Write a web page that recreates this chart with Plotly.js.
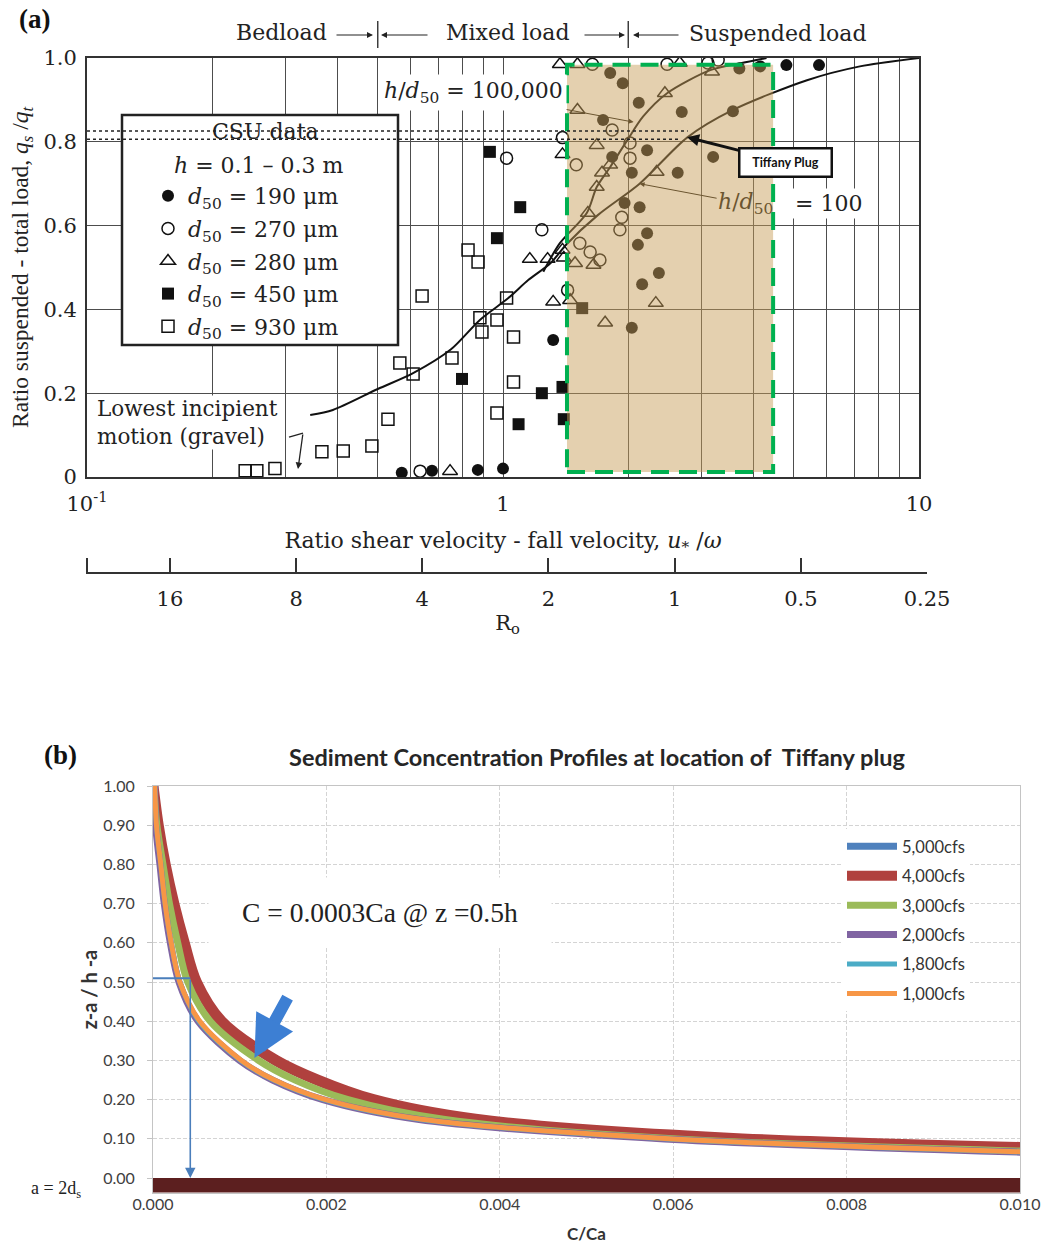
<!DOCTYPE html>
<html><head><meta charset="utf-8">
<script src="https://cdn.plot.ly/plotly-3.0.1.min.js"></script>
<style>html,body{margin:0;padding:0;background:#fff;}#chart{width:1047px;height:1247px;}</style>
</head><body><div id="chart"></div>
<script>
// ================= Panel (a) data =================
// CSU data points: u*/w (x) vs qs/qt (y)
const d190x = [0.571,0.675,0.87,1.0,1.32,1.74,1.81,1.94,2.12,2.69,3.57,3.7,4.15,4.8,5.75,1.83,2.22,2.04,2.63,3.2,1.96,2.13,2.22,2.11,2.37,2.16,2.04];
const d190y = [0.01,0.015,0.017,0.02,0.327,0.852,0.964,0.94,0.893,0.871,0.873,0.975,0.98,0.983,0.983,0.764,0.78,0.726,0.726,0.764,0.654,0.644,0.582,0.554,0.487,0.46,0.356];
const d270x = [0.632,1.02,1.24,1.39,1.43,1.53,1.62,1.71,1.50,1.83,2.02,2.02,1.93,1.91,1.64,2.48,3.11,3.29];
const d270y = [0.014,0.761,0.59,0.81,0.446,0.558,0.537,0.518,0.745,0.828,0.797,0.761,0.62,0.59,0.985,0.985,0.988,0.995];
const d280x = [0.746,1.16,1.28,1.40,1.32,1.37,1.51,2.66,1.51,1.68,2.45,3.18,1.81,1.73,1.68,1.60,2.34,1.39,1.49,1.65,2.33,1.76,1.45,1.39];
const d280y = [0.014,0.52,0.52,0.523,0.418,0.985,0.985,0.988,0.876,0.792,0.916,0.967,0.745,0.726,0.692,0.63,0.728,0.542,0.51,0.506,0.415,0.368,0.422,0.77];
const d450x = [0.93,1.10,0.967,0.797,1.09,1.24,1.39,1.40,1.55];
const d450y = [0.776,0.644,0.57,0.234,0.126,0.2,0.215,0.138,0.403];
const d930x = [0.24,0.256,0.283,0.367,0.413,0.484,0.529,0.565,0.608,0.639,0.754,0.824,0.871,0.88,0.89,0.967,0.967,1.02,1.06,1.06];
const d930y = [0.015,0.015,0.02,0.06,0.062,0.074,0.138,0.272,0.246,0.432,0.284,0.542,0.513,0.38,0.346,0.375,0.153,0.427,0.334,0.227];
// Curves h/d50 = 100 and h/d50 = 100,000
const hd100x = [0.344,0.39,0.5,0.608,0.75,0.88,1.03,1.15,1.30,1.42,1.69,2.13,2.77,3.57,5.38,7.21,10];
const hd100y = [0.148,0.16,0.21,0.248,0.305,0.375,0.427,0.47,0.51,0.555,0.625,0.70,0.81,0.876,0.947,0.98,1.0];
const hd1e5x = [1.25,1.37,1.59,1.68,1.81,1.99,2.17,2.48,3.15,3.75,4.3];
const hd1e5y = [0.49,0.558,0.63,0.692,0.74,0.804,0.86,0.916,0.971,0.988,1.0];
// Axis ticks
const xGridVals = [0.1,0.2,0.3,0.4,0.5,0.6,0.7,0.8,0.9,1,2,3,4,5,6,7,8,9,10];
const xGridText = ['10<sup>-1</sup>','','','','','','','','','1','','','','','','','','','10'];
const yTickVals = [0,0.2,0.4,0.6,0.8,1.0];
const yTickText = ['0','0.2','0.4','0.6','0.8','1.0'];
const roTicks = [16,8,4,2,1,0.5,0.25];
const roTickText = ['16','8','4','2','1','0.5','0.25'];
const legendNames = ['<i>d</i><sub>50</sub> = 190 μm','<i>d</i><sub>50</sub> = 270 μm','<i>d</i><sub>50</sub> = 280 μm','<i>d</i><sub>50</sub> = 450 μm','<i>d</i><sub>50</sub> = 930 μm'];

// ================= Panel (b) data =================
const zLevels = [1.00,0.90,0.80,0.70,0.60,0.50,0.40,0.30,0.25,0.20,0.15,0.10,0.05];
const cfs5000 = [0.00000,0.00005,0.00013,0.00023,0.00034,0.00048,0.00076,0.00138,0.00185,0.00248,0.00365,0.00675,0.01680];
const cfs4000 = [0.00000,0.00006,0.00014,0.00024,0.00036,0.00050,0.00079,0.00142,0.00190,0.00254,0.00372,0.00680,0.01700];
const cfs3000 = [0.00001,0.000045,0.000115,0.00019,0.000285,0.00040,0.00066,0.00122,0.00164,0.00225,0.00335,0.00605,0.01350];
const cfs2000 = [0.00002,0.00003,0.00008,0.00013,0.00020,0.00030,0.00052,0.00100,0.00138,0.00196,0.00305,0.00590,0.01260];
const cfs1800 = [0.00002,0.00004,0.00009,0.00014,0.00021,0.00031,0.00053,0.00101,0.00139,0.00197,0.00307,0.00595,0.01270];
const cfs1000 = [0.00002,0.00004,0.00009,0.00014,0.00021,0.00031,0.00054,0.00102,0.00140,0.00199,0.00310,0.00600,0.01280];
const seriesNames = ['5,000cfs','4,000cfs','3,000cfs','2,000cfs','1,800cfs','1,000cfs'];
const yTicksB = [0,0.1,0.2,0.3,0.4,0.5,0.6,0.7,0.8,0.9,1.0];

// ================= helpers =================
const W = 1047, H = 1247;
const X = px => px / W;
const Y = py => 1 - py / H;
const lx = v => Math.log10(v);
const SERIF = 'DejaVu Serif, serif';
const TIMES = 'Liberation Serif, Times New Roman, serif';
const SANS = 'Lato, Liberation Sans, sans-serif';

const traces = [];
const syms = ['circle','circle-open','triangle-up-open','square','square-open'];
[[d190x,d190y],[d270x,d270y],[d280x,d280y],[d450x,d450y],[d930x,d930y]].forEach((d,i)=>{
  const open = syms[i].indexOf('open')>=0;
  traces.push({type:'scatter', mode:'markers', x:d[0], y:d[1], name:legendNames[i], xaxis:'x', yaxis:'y',
    legend:'legend', legendgroup:'a'+i,
    marker:{symbol:syms[i], size: syms[i].indexOf('triangle')>=0 ? 13 : 12, color:'#111', line:{color:'#111', width: open?1.5:0}},
    hoverinfo:'skip'});
});
traces.push({type:'scatter', mode:'lines', x:hd100x, y:hd100y, xaxis:'x', yaxis:'y', showlegend:false,
  line:{color:'#111', width:2, shape:'spline', smoothing:0.8}, hoverinfo:'skip'});
traces.push({type:'scatter', mode:'lines', x:hd1e5x, y:hd1e5y, xaxis:'x', yaxis:'y', showlegend:false,
  line:{color:'#111', width:2, shape:'spline', smoothing:0.8}, hoverinfo:'skip'});
// Ro axis carrier (no visible marks)
traces.push({type:'scatter', mode:'markers', x:roTicks, y:roTicks.map(()=>null), xaxis:'x3', yaxis:'y3',
  showlegend:false, hoverinfo:'skip', marker:{opacity:0}});

// Panel (b)
const colors = ['#4F81BD','#B0413E','#9BBB59','#8064A2','#4BACC6','#F79646'];
const widths = [7,11,7,7,5,5];
[cfs5000,cfs4000,cfs3000,cfs2000,cfs1800,cfs1000].forEach((s,i)=>{
  traces.push({type:'scatter', mode:'lines', x:s, y:zLevels, name:seriesNames[i], xaxis:'x2', yaxis:'y2',
    legend:'legend2', legendgroup:'b'+i,
    line:{color:colors[i], width:widths[i], shape:'spline', smoothing:0.9}, hoverinfo:'skip'});
});

const brown = '#6b5530';
function txt(px, py, text, font, extra) {
  return Object.assign({xref:'paper', yref:'paper', x:X(px), y:Y(py), xanchor:'center', yanchor:'middle',
    text:text, showarrow:false, font:font}, extra||{});
}
function arr(px, py, ax, ay, color, width) {
  return {xref:'paper', yref:'paper', x:X(px), y:Y(py), ax:ax, ay:ay, text:'', showarrow:true,
    arrowhead:2, arrowsize:1, arrowwidth:width||1.2, arrowcolor:color||'#222'};
}
const fA = (s, c) => ({family:SERIF, size:s, color:c||'#222'});

const layout = {
  width: W, height: H, margin:{l:0,r:0,t:0,b:0},
  paper_bgcolor:'#fff', plot_bgcolor:'#fff',
  font:{family:SERIF, color:'#222'},
  title:{text:'<b>Sediment Concentration Profiles at location of  Tiffany plug</b>',
    font:{family:SANS, size:23.5, color:'#262626'}, x:X(597), y:Y(758), xanchor:'center', yanchor:'middle', xref:'paper', yref:'container'},
  xaxis:{type:'log', domain:[X(87),X(919)], range:[-1,1], anchor:'y',
    tickvals:xGridVals, ticktext:xGridText, ticks:'', showgrid:true, gridcolor:'#4d4d4d', gridwidth:1,
    showline:true, mirror:true, linecolor:'#333', linewidth:2, zeroline:false,
    tickfont:fA(21), ticklabelstandoff:7,
    title:{text:'Ratio shear velocity - fall velocity, <i>u</i><sub>*</sub> /<i>ω</i>', font:fA(22), standoff:17}},
  yaxis:{domain:[Y(477),Y(58)], range:[0,1], anchor:'x',
    tickvals:yTickVals, ticktext:yTickText, ticks:'', showgrid:true, gridcolor:'#4d4d4d', gridwidth:1,
    showline:true, mirror:true, linecolor:'#333', linewidth:2, zeroline:false,
    tickfont:fA(21), ticklabelstandoff:4,
    title:{text:'Ratio suspended - total load, <i>q<sub>s</sub></i> /<i>q<sub>t</sub></i>', font:{family:TIMES, size:23.5, color:'#222'}, standoff:8}},
  xaxis3:{type:'log', domain:[X(88),X(927)], range:[lx(25.1), lx(0.25)], anchor:'y3',
    tickvals:roTicks, ticktext:roTickText, ticks:'inside', ticklen:14, tickwidth:2, tickcolor:'#333',
    showline:true, linewidth:2, linecolor:'#333', showgrid:false, zeroline:false,
    tickfont:fA(21), ticklabelstandoff:7,
    title:{text:'R<sub>o</sub>', font:fA(21), standoff:5}},
  yaxis3:{domain:[Y(572),Y(558)], anchor:'x3', range:[0,1], showline:true, linewidth:2, linecolor:'#333',
    showticklabels:false, ticks:'', showgrid:false, zeroline:false},
  xaxis2:{domain:[X(153),X(1020)], range:[0,0.01], anchor:'y2', dtick:0.002, tick0:0, tickformat:'.3f',
    showgrid:true, gridcolor:'#d4d4d4', griddash:'4px,2px', gridwidth:1, showline:true, mirror:true, linecolor:'#c4c4c4',
    zeroline:false, ticks:'', tickfont:{family:SANS, size:16, color:'#404040'}, ticklabelstandoff:-3,
    title:{text:'<b>C/Ca</b>', font:{family:SANS, size:17, color:'#333'}, standoff:15}},
  yaxis2:{domain:[Y(1193),Y(786)], range:[-0.038,1.0], anchor:'x2',
    tickvals:yTicksB, tickformat:'.2f',
    showgrid:true, gridcolor:'#d4d4d4', griddash:'4px,2px', gridwidth:1, showline:true, mirror:true, linecolor:'#c4c4c4',
    zeroline:false, ticks:'outside', ticklen:5, tickcolor:'#c4c4c4', tickfont:{family:SANS, size:16, color:'#404040'}, ticklabelstandoff:9,
    title:{text:'<b>z-a / h -a</b>', font:{family:SANS, size:20, color:'#333'}, standoff:0}},
  legend:{x:X(148), y:Y(175), xanchor:'left', yanchor:'top', bgcolor:'rgba(0,0,0,0)', borderwidth:0,
    font:fA(22), tracegroupgap:1},
  legend2:{x:X(842), y:Y(829), xanchor:'left', yanchor:'top', bgcolor:'#fff', borderwidth:0,
    font:{family:SANS, size:16.5, color:'#333'}, tracegroupgap:5, itemwidth:50},
  shapes:[
    // shaded suspended zone with green dashed outline
    {type:'rect', xref:'x', yref:'y', x0:1.425, x1:4.46, y0:0.012, y1:0.984, layer:'above',
      fillcolor:'rgba(198,156,87,0.48)', line:{color:'#00b050', width:4, dash:'18px,10px'}},
    // legend frame
    {type:'rect', xref:'paper', yref:'paper', x0:X(122), x1:X(398), y0:Y(345), y1:Y(115), layer:'above',
      fillcolor:'#fff', line:{color:'#222', width:2.5}},
    // dotted lines to Tiffany Plug
    {type:'line', xref:'x', yref:'y', x0:0.1, x1:2.78, y0:0.826, y1:0.826, layer:'above', line:{color:'#222', width:1.5, dash:'dot'}},
    {type:'line', xref:'x', yref:'y', x0:0.1, x1:2.66, y0:0.806, y1:0.806, layer:'above', line:{color:'#222', width:1.5, dash:'dot'}},
    // load-region separators
    {type:'line', xref:'x', yref:'paper', x0:0.5, x1:0.5, y0:Y(48), y1:Y(21), line:{color:'#222', width:1.3}},
    {type:'line', xref:'x', yref:'paper', x0:2, x1:2, y0:Y(48), y1:Y(21), line:{color:'#222', width:1.3}},
    // bracket for incipient motion
    {type:'line', xref:'paper', yref:'paper', x0:X(289), x1:X(303), y0:Y(437), y1:Y(433), line:{color:'#222', width:1.3}},
    // panel (b): bed layer bar and reading line
    {type:'rect', xref:'x2', yref:'y2', x0:0, x1:0.01, y0:-0.037, y1:0, layer:'above', fillcolor:'#5c1f1f', line:{width:0}},
    {type:'line', xref:'x2', yref:'y2', x0:0, x1:0.00043, y0:0.51, y1:0.51, layer:'above', line:{color:'#4a7ebb', width:2}}
  ],
  annotations:[
    txt(34, 19, '<b>(a)</b>', {family:TIMES, size:27, color:'#111'}),
    txt(281, 33, 'Bedload', fA(22)),
    txt(508, 33, 'Mixed load', fA(22)),
    txt(777, 34, 'Suspended load', fA(22)),
    arr(373, 35, -38, 0), arr(381, 35, 48, 0), arr(625, 35, -42, 0), arr(633, 35, 47, 0),
    txt(265, 132, 'CSU data', fA(22)),
    txt(259, 165, '<i>h</i> = 0.1 – 0.3 m', fA(22)),
    {xref:'x', yref:'y', x:lx(2.06), y:0.847, ax:-160, ay:-30, text:'<i>h</i>/<i>d</i><sub>50</sub> = 100,000', showarrow:true,
      arrowhead:2, arrowsize:1, arrowwidth:1, arrowcolor:brown, bgcolor:'#fff', borderpad:3, font:fA(22)},
    {xref:'x', yref:'y', x:lx(2.13), y:0.70, ax:106, ay:20, text:'<i>h</i>/<i>d</i><sub>50</sub>', showarrow:true,
      arrowhead:2, arrowsize:1, arrowwidth:1, arrowcolor:brown, font:fA(22, brown)},
    txt(828, 203, '= 100', fA(22), {bgcolor:'#fff', borderpad:2}),
    {xref:'x', yref:'y', x:lx(2.77), y:0.811, ax:98, ay:25, text:'<b>Tiffany Plug</b>', showarrow:true,
      arrowhead:2, arrowsize:0.8, arrowwidth:3, arrowcolor:'#111', bgcolor:'#fff', bordercolor:'#111', borderwidth:2.5,
      borderpad:1, width:88, height:24, font:{family:SANS, size:12.5, color:'#111'}},
    txt(96, 422, 'Lowest incipient<br>motion (gravel)', fA(21.5), {xanchor:'left', align:'left', bgcolor:'#fff', borderpad:0}),
    arr(298, 469, 5, -36, '#222', 1.3),
    // panel (b)
    txt(60, 755, '<b>(b)</b>', {family:TIMES, size:27, color:'#111'}),
    txt(380, 912, 'C = 0.0003Ca @ z =0.5h', {family:TIMES, size:27.5, color:'#222'}, {bgcolor:'#fff', width:340, height:66}),
    txt(56, 1189, 'a = 2d<sub>s</sub>', {family:TIMES, size:18, color:'#222'}),
    {xref:'x2', yref:'y2', x:0.00043, y:0.0, axref:'x2', ayref:'y2', ax:0.00043, ay:0.51, text:'', showarrow:true,
      arrowhead:2, arrowsize:1.3, arrowwidth:1.6, arrowcolor:'#4a7ebb'},
    {xref:'x2', yref:'y2', x:0.00117, y:0.306, ax:34, ay:-62, text:'', showarrow:true,
      arrowhead:2, arrowsize:0.7, arrowwidth:12, arrowcolor:'#3d7fd3'}
  ]
};
Plotly.newPlot('chart', traces, layout, {staticPlot:true});
</script></body></html>
